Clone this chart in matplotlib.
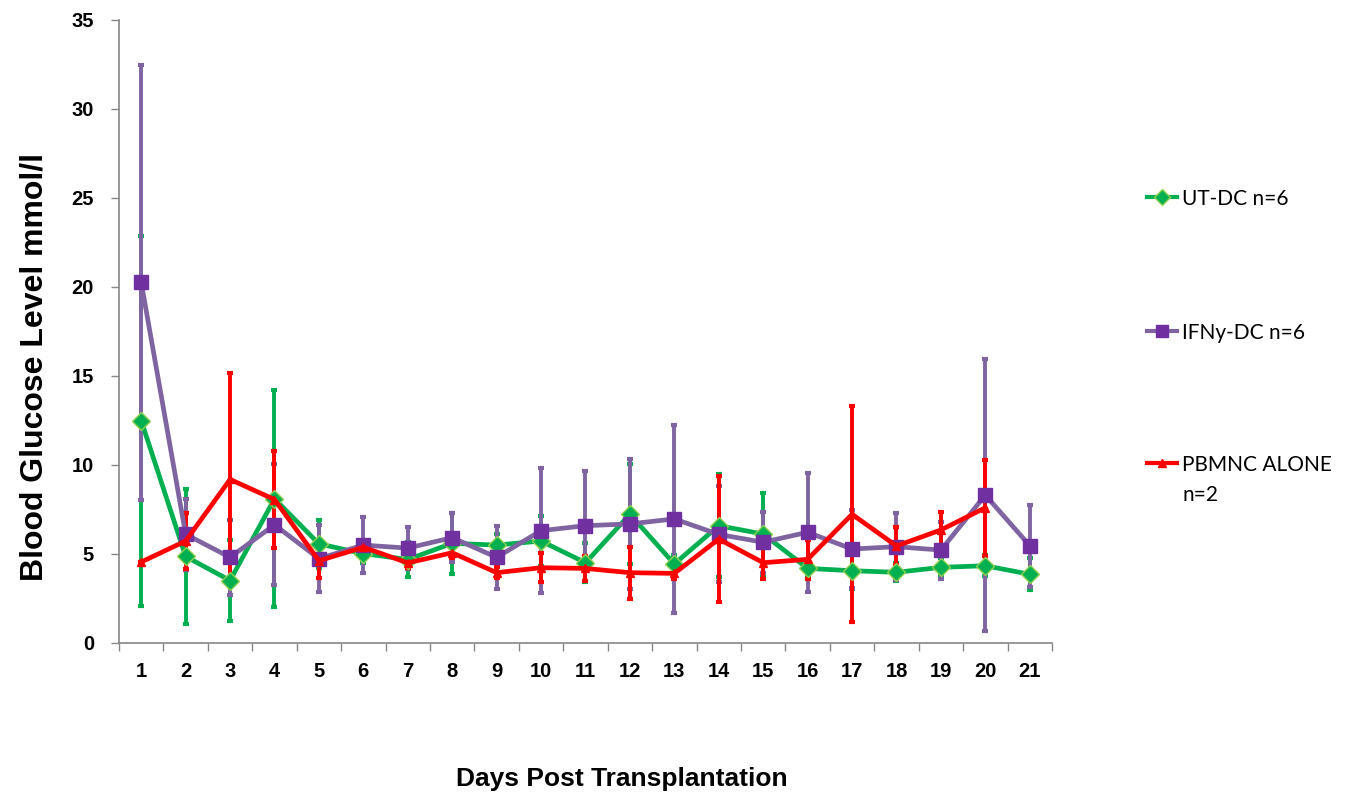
import numpy as np
import matplotlib.pyplot as plt
from matplotlib.lines import Line2D

# Days post transplantation
days = list(range(1, 22))

# UT-DC n=6 (mean, error)
ut_dc = [12.49, 4.86, 3.51, 8.10, 5.57, 5.02, 4.69, 5.60, 5.50, 5.73, 4.51,
         7.23, 4.44, 6.59, 6.12, 4.19, 4.06, 3.97, 4.25, 4.34, 3.86]
ut_dc_err = [10.4, 3.8, 2.3, 6.1, 1.35, 0.5, 1.0, 1.7, 0.6, 1.4, 1.1,
             2.8, 0.5, 2.9, 2.3, 0.5, 1.0, 0.5, 0.5, 0.6, 0.9]

# IFNy-DC n=6
ifn_dc = [20.26, 6.11, 4.81, 6.64, 4.74, 5.50, 5.33, 5.92, 4.81, 6.31, 6.59,
          6.69, 6.97, 6.10, 5.66, 6.22, 5.28, 5.41, 5.22, 8.31, 5.47]
ifn_dc_err = [12.2, 2.0, 2.1, 3.4, 1.9, 1.57, 1.2, 1.36, 1.75, 3.5, 3.1,
              3.65, 5.26, 2.7, 1.7, 3.35, 2.2, 1.87, 1.6, 7.65, 2.3]

# PBMNC ALONE n=2 (no value on day 21)
pbmnc = [4.55, 5.73, 9.19, 8.06, 4.62, 5.38, 4.50, 5.07, 3.95, 4.23, 4.19,
         3.95, 3.91, 5.84, 4.51, 4.70, 7.23, 5.45, 6.35, 7.60, np.nan]
pbmnc_err = [0.0, 1.6, 6.0, 2.75, 0.95, 0.3, 0.3, 0.3, 0.3, 0.8, 0.7,
             1.46, 0.3, 3.55, 0.9, 1.1, 6.07, 1.05, 1.0, 2.7, np.nan]

labels = ["UT-DC n=6", "IFNy-DC n=6", "PBMNC ALONE\nn=2"]

green = "#00B050"
purple_line = "#8064A2"
purple_mk = "#7030A0"
red = "#FF0000"

bold_narrow = ["Liberation Sans Narrow", "Liberation Sans", "DejaVu Sans"]

fig = plt.figure(figsize=(13.6, 8.09), dpi=100)
ax = fig.add_axes([0.0875, 0.2052, 0.686, 0.7701])

series = [
    (ut_dc, ut_dc_err, green, green, "D", 9, "#92D050"),
    (ifn_dc, ifn_dc_err, purple_line, purple_mk, "s", 10, purple_mk),
    (pbmnc, pbmnc_err, red, red, "^", 6, red),
]

# error bars first, lines and markers on top
for i, (y, e, lc, mc, mk, ms, mec) in enumerate(series):
    ax.errorbar(days, y, yerr=e, fmt="none", ecolor=lc, elinewidth=2.8,
                capsize=2.5, capthick=3, zorder=2 + i * 0.1)
for i, (y, e, lc, mc, mk, ms, mec) in enumerate(series):
    ax.plot(days, y, color=lc, lw=3.4, marker=mk, markersize=ms,
            markerfacecolor=mc, markeredgecolor=mec, markeredgewidth=1,
            zorder=3 + i * 0.1)

ax.set_xlim(0.5, 21.5)
ax.set_ylim(0, 35)
ax.set_xticks(days)
ax.set_xticks(np.arange(0.5, 22, 1), minor=True)
ax.set_yticks(range(0, 36, 5))
ax.tick_params(axis="x", which="major", length=0, pad=14)
ax.tick_params(axis="x", which="minor", length=6, color="#868686", width=1)
ax.tick_params(axis="y", length=6, color="#868686", width=1, pad=12)
for lab in ax.get_xticklabels() + ax.get_yticklabels():
    lab.set_family(bold_narrow)
    lab.set_fontweight("bold")
    lab.set_fontsize(14.5)

for s in ["top", "right"]:
    ax.spines[s].set_visible(False)
for s in ["left", "bottom"]:
    ax.spines[s].set_color("#868686")
    ax.spines[s].set_linewidth(1.2)

ax.set_ylabel("Blood Glucose Level mmol/l", family=bold_narrow,
              fontweight="bold", fontsize=23)
ax.yaxis.set_label_coords(-0.075, 0.443)
fig.text(0.457, 0.022, "Days Post Transplantation", family=bold_narrow,
         fontweight="bold", fontsize=19, ha="center", va="bottom")

# legend on the right
leg_y = [197, 331, 463]
for (y, e, lc, mc, mk, ms, mec), lab, py in zip(series, labels, leg_y):
    fy = 1 - py / 809
    fig.add_artist(Line2D([1147 / 1360, 1177 / 1360], [fy, fy], color=lc,
                          lw=3, transform=fig.transFigure))
    fig.add_artist(Line2D([1162 / 1360], [fy], color=lc, marker=mk,
                          markersize=ms * 0.85, markerfacecolor=mc,
                          markeredgecolor=mec, transform=fig.transFigure))
    fig.text(1182 / 1360, fy + 8 / 809, lab, fontsize=15, family="Lato",
             ha="left", va="top", linespacing=1.6)

fig.savefig("out.png", dpi=100)
